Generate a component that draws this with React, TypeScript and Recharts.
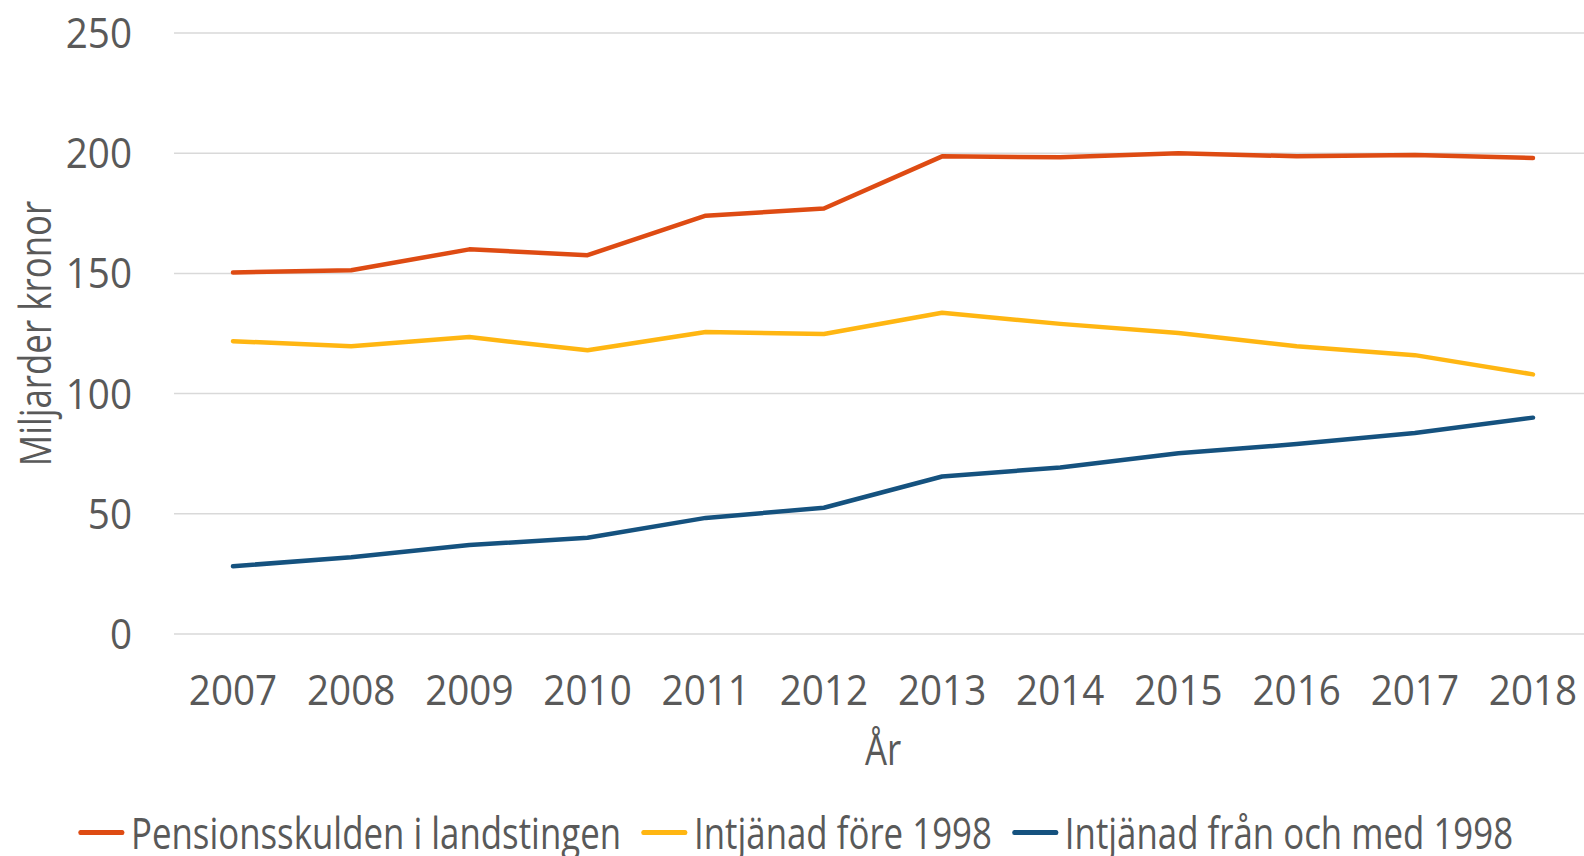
import { LineChart, Line, XAxis, YAxis, CartesianGrid, Legend } from 'recharts';

const FONT = '"Open Sans", sans-serif';
const TEXT = '#595959';
const FS = 43;
const SX = 0.81; // condensed look for legend and titles
const TICK_FS = 42;
const TICK_SX = 0.92;

const years = ['2007', '2008', '2009', '2010', '2011', '2012', '2013', '2014', '2015', '2016', '2017', '2018'];
const totalDebt = [150.4, 151.3, 160, 157.6, 174, 177, 198.7, 198.3, 200, 198.7, 199.2, 198];
const before1998 = [121.8, 119.7, 123.5, 118, 125.6, 124.8, 133.6, 129, 125.2, 119.7, 116, 108];
const from1998 = [28.2, 31.9, 37, 40, 48.3, 52.5, 65.5, 69.3, 75.2, 79, 83.6, 90];
const yTicks = [0, 50, 100, 150, 200, 250];

const series = [
  { key: 'total', name: 'Pensionsskulden i landstingen', color: '#DE4B13' },
  { key: 'before', name: 'Intjänad före 1998', color: '#FFB612' },
  { key: 'from', name: 'Intjänad från och med 1998', color: '#15527F' },
];

const data = years.map((year, i) => ({
  year,
  total: totalDebt[i],
  before: before1998[i],
  from: from1998[i],
}));

function XTick({ x, y, payload }: any) {
  return (
    <g transform={`translate(${x},${y}) scale(${TICK_SX},1)`}>
      <text x={0} y={0} dy={30} textAnchor="middle" fill={TEXT} fontSize={TICK_FS} fontFamily={FONT}>
        {payload.value}
      </text>
    </g>
  );
}

function YTick({ x, y, payload }: any) {
  return (
    <g transform={`translate(${x},${y}) scale(${TICK_SX},1)`}>
      <text x={0} y={0} dy={15} textAnchor="end" fill={TEXT} fontSize={TICK_FS} fontFamily={FONT}>
        {payload.value}
      </text>
    </g>
  );
}

function LegendContent() {
  return (
    <div
      style={{
        height: 50,
        boxSizing: 'border-box',
        paddingTop: 3,
        display: 'flex',
        alignItems: 'center',
        justifyContent: 'center',
        fontFamily: FONT,
        fontSize: FS,
        color: TEXT,
        whiteSpace: 'nowrap',
      }}
    >
      <div style={{ display: 'flex', alignItems: 'center', transform: `scaleX(${SX})`, transformOrigin: 'center' }}>
        {series.map((s, i) => (
          <div key={s.key} style={{ display: 'flex', alignItems: 'center', marginLeft: i ? 25 : 0 }}>
            <div style={{ width: 57, height: 5, borderRadius: 3, background: s.color, marginRight: 8 }} />
            <span style={{ lineHeight: '50px' }}>{s.name}</span>
          </div>
        ))}
      </div>
    </div>
  );
}

export default function App() {
  return (
    <div
      style={{
        position: 'absolute',
        left: 0,
        top: 0,
        width: 1584,
        height: 856,
        overflow: 'hidden',
        background: '#fff',
        fontFamily: FONT,
      }}
    >
      <LineChart width={1592} height={856} data={data} margin={{ top: 33, right: 0, bottom: 0, left: 0 }}>
        <CartesianGrid vertical={false} stroke="#D9D9D9" strokeWidth={1.5} />
        <XAxis
          dataKey="year"
          axisLine={false}
          tickLine={false}
          tickSize={0}
          tickMargin={41}
          height={172}
          interval={0}
          padding={{ left: 59, right: 59 }}
          tick={<XTick />}
          label={{
            content: ({ viewBox }: any) => {
              const cx = viewBox.x + viewBox.width / 2;
              return (
                <g transform={`translate(${cx},765) scale(${SX},1)`}>
                  <text x={0} y={0} textAnchor="middle" fill={TEXT} fontSize={FS} fontFamily={FONT}>
                    År
                  </text>
                </g>
              );
            },
          }}
        />
        <YAxis
          width={174}
          domain={[0, 250]}
          ticks={yTicks}
          axisLine={false}
          tickLine={false}
          tickSize={0}
          tickMargin={42}
          tick={<YTick />}
          label={{
            content: ({ viewBox }: any) => {
              const cx = 34;
              const cy = viewBox.y + viewBox.height / 2;
              return (
                <g transform={`translate(${cx},${cy}) rotate(-90) scale(${SX},1)`}>
                  <text
                    x={0}
                    y={0}
                    textAnchor="middle"
                    dominantBaseline="central"
                    fill={TEXT}
                    fontSize={FS}
                    fontFamily={FONT}
                  >
                    Miljarder kronor
                  </text>
                </g>
              );
            },
          }}
        />
        <Legend verticalAlign="bottom" align="center" content={<LegendContent />} />
        {series.map((s) => (
          <Line
            key={s.key}
            type="linear"
            dataKey={s.key}
            name={s.name}
            stroke={s.color}
            strokeWidth={4.5}
            strokeLinecap="round"
            strokeLinejoin="round"
            dot={false}
            activeDot={false}
            isAnimationActive={false}
          />
        ))}
      </LineChart>
    </div>
  );
}
